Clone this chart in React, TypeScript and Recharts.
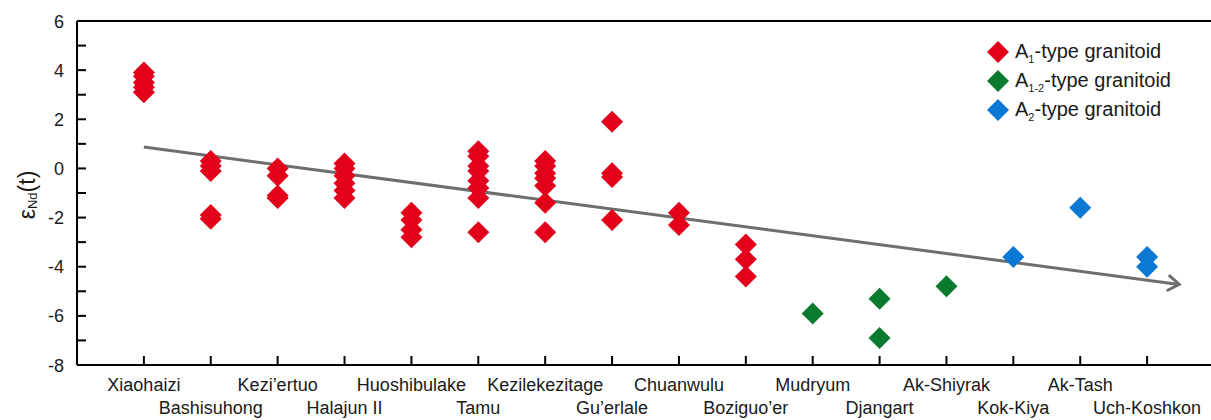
import { ScatterChart, Scatter, XAxis, YAxis, ReferenceLine } from "recharts"

const RED = "#e3001b"
const GREEN = "#0a7a2f"
const BLUE = "#0b78d6"
const FONT = "'Liberation Sans', Arial, Helvetica, sans-serif"

const sites = [
  "Xiaohaizi",
  "Bashisuhong",
  "Kezi’ertuo",
  "Halajun II",
  "Huoshibulake",
  "Tamu",
  "Kezilekezitage",
  "Gu’erlale",
  "Chuanwulu",
  "Boziguo’er",
  "Mudryum",
  "Djangart",
  "Ak-Shiyrak",
  "Kok-Kiya",
  "Ak-Tash",
  "Uch-Koshkon",
]

// εNd(t) per site, A1-type (sites 1-10)
const a1Values: number[][] = [
  [3.9, 3.75, 3.5, 3.3, 3.1],
  [0.3, 0.1, -0.1, -1.9, -2.05],
  [0, -0.3, -1.1, -1.2],
  [0.2, 0, -0.3, -0.6, -0.9, -1.2],
  [-1.8, -2.1, -2.5, -2.8],
  [0.7, 0.5, 0.1, -0.1, -0.5, -0.8, -1.2, -2.6],
  [0.3, 0.1, -0.2, -0.4, -0.7, -1.4, -2.6],
  [1.9, -0.2, -0.35, -2.1],
  [-1.8, -2.3],
  [-3.1, -3.7, -4.4],
]
// A1-2-type (sites 11-13)
const a12Values: number[][] = [[-5.9], [-5.3, -6.9], [-4.8]]
// A2-type (sites 14-16)
const a2Values: number[][] = [[-3.6], [-1.6], [-3.6, -4.0]]

const trendStart = { x: 1, y: 0.87 }
const trendEnd = { x: 16.48, y: -4.72 }

const yTicks = [-8, -7, -6, -5, -4, -3, -2, -1, 0, 1, 2, 3, 4, 5, 6]
const xTicks = sites.map((_, i) => i + 1)

const toPoints = (groups: number[][], offset: number) =>
  groups.flatMap((vals, i) => vals.map((v) => ({ x: offset + i + 1, y: v })))

const a1Data = toPoints(a1Values, 0)
const a12Data = toPoints(a12Values, a1Values.length)
const a2Data = toPoints(a2Values, a1Values.length + a12Values.length)

const Diamond = (color: string) => (props: any) => {
  const { cx, cy } = props
  const r = 11
  return <polygon points={`${cx},${cy - r} ${cx + r},${cy} ${cx},${cy + r} ${cx - r},${cy}`} fill={color} />
}

const XTick = ({ x, y, payload }: any) => {
  const idx = payload.value - 1
  const row = idx % 2
  return (
    <g>
      <line x1={x} y1={y} x2={x} y2={y - 9} stroke="#000" strokeWidth={2} />
      <text x={x} y={y + 26 + row * 23} textAnchor="middle" fontSize={18} fontFamily={FONT} fill="#1a1a1a">
        {sites[idx]}
      </text>
    </g>
  )
}

const YTick = ({ x, y, payload }: any) => {
  const v = payload.value
  return (
    <g>
      <line x1={x} y1={y} x2={x + 9} y2={y} stroke="#000" strokeWidth={2} />
      {v % 2 === 0 && (
        <text x={x - 13} y={y + 6.5} textAnchor="end" fontSize={18} fontFamily={FONT} fill="#1a1a1a">
          {v}
        </text>
      )}
    </g>
  )
}

const YLabel = ({ viewBox }: any) => {
  const cx = 27
  const cy = viewBox.y + viewBox.height / 2 + 2
  return (
    <text
      x={cx}
      y={cy}
      transform={`rotate(-90 ${cx} ${cy})`}
      textAnchor="middle"
      fontSize={23}
      fontFamily={FONT}
      fill="#1a1a1a"
      dominantBaseline="central"
    >
      ε
      <tspan fontSize={13} dy={5}>Nd</tspan>
      <tspan dy={-5}>(t)</tspan>
    </text>
  )
}

const Arrow = (props: any) => {
  const { x1, y1, x2, y2 } = props
  const ang = Math.atan2(y2 - y1, x2 - x1)
  const len = 14
  const spread = 0.6
  const ax = x2 - len * Math.cos(ang - spread)
  const ay = y2 - len * Math.sin(ang - spread)
  const bx = x2 - len * Math.cos(ang + spread)
  const by = y2 - len * Math.sin(ang + spread)
  return (
    <g>
      <line x1={x1} y1={y1} x2={x2} y2={y2} stroke="#6e6e6e" strokeWidth={3} />
      <polyline points={`${ax},${ay} ${x2},${y2} ${bx},${by}`} fill="none" stroke="#6e6e6e" strokeWidth={3} />
    </g>
  )
}

const legendItems = [
  { sub: "1", color: RED },
  { sub: "1-2", color: GREEN },
  { sub: "2", color: BLUE },
]

const LegendBox = () => (
  <div style={{ position: "absolute", top: 37, left: 987, fontFamily: FONT, fontSize: 20, color: "#1a1a1a" }}>
    {legendItems.map((it) => (
      <div key={it.sub} style={{ display: "flex", alignItems: "center", height: 29 }}>
        <svg width={22} height={22} style={{ marginRight: 6 }}>
          <polygon points="11,0 22,11 11,22 0,11" fill={it.color} />
        </svg>
        <span>
          A<span style={{ fontSize: 11, position: "relative", top: 5 }}>{it.sub}</span>-type granitoid
        </span>
      </div>
    ))}
  </div>
)

export default function App() {
  return (
    <div style={{ position: "absolute", left: 0, top: 0, width: 1211, height: 420, background: "#fff", overflow: "hidden" }}>
      <ScatterChart width={1211} height={420} margin={{ top: 21, right: -3, bottom: 0, left: 0 }}>
        <XAxis
          type="number"
          dataKey="x"
          domain={[0, 17]}
          ticks={xTicks}
          interval={0}
          height={55}
          tickSize={0}
          tickMargin={0}
          tickLine={false}
          axisLine={{ stroke: "#000", strokeWidth: 2 }}
          tick={<XTick />}
          allowDataOverflow
        />
        <YAxis
          type="number"
          dataKey="y"
          domain={[-8, 6]}
          ticks={yTicks}
          interval={0}
          width={77}
          tickSize={0}
          tickMargin={0}
          tickLine={false}
          axisLine={{ stroke: "#000", strokeWidth: 2 }}
          tick={<YTick />}
          label={<YLabel />}
        />
        <ReferenceLine y={6} stroke="#000" strokeWidth={2} />
        <ReferenceLine
          segment={[trendStart, trendEnd]}
          shape={(p: any) => <Arrow {...p} />}
          ifOverflow="visible"
        />
        <Scatter name="A1" data={a1Data} fill={RED} shape={Diamond(RED)} isAnimationActive={false} />
        <Scatter name="A1-2" data={a12Data} fill={GREEN} shape={Diamond(GREEN)} isAnimationActive={false} />
        <Scatter name="A2" data={a2Data} fill={BLUE} shape={Diamond(BLUE)} isAnimationActive={false} />
      </ScatterChart>
      <LegendBox />
    </div>
  )
}
